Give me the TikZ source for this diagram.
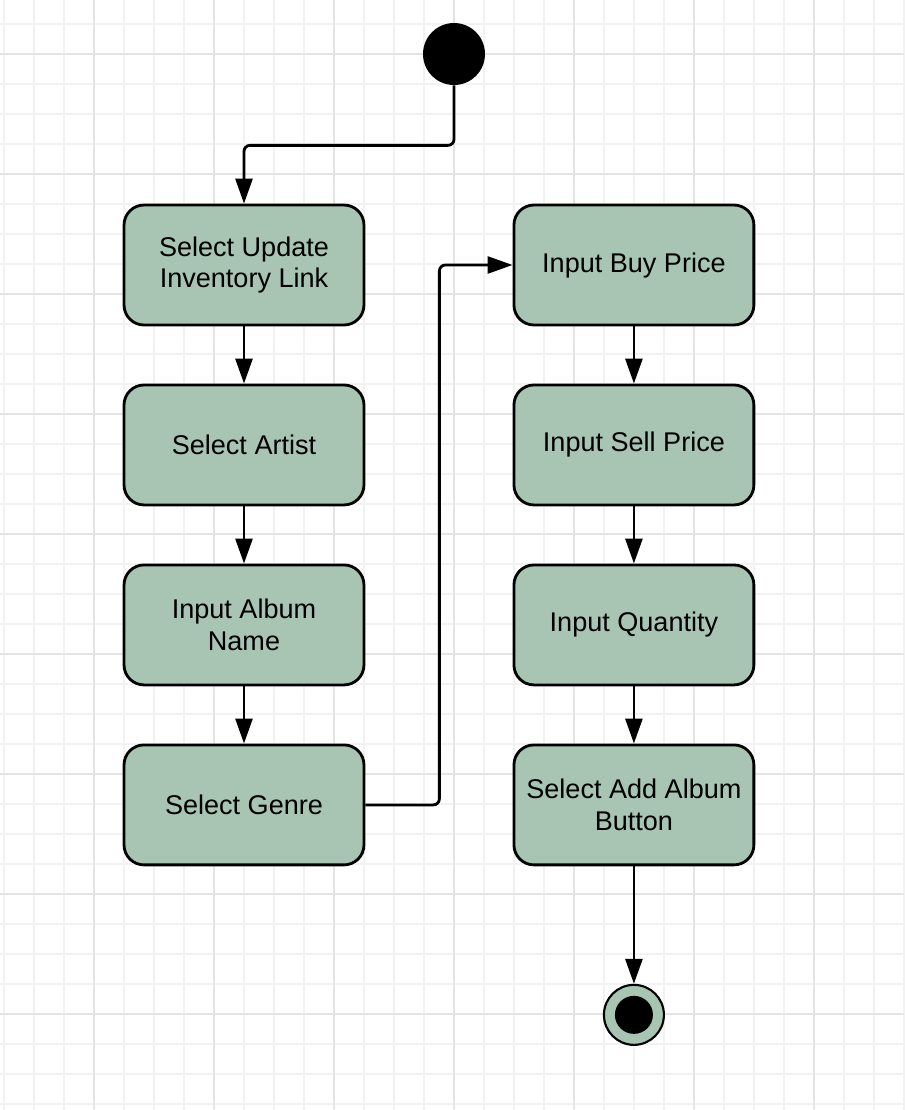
\documentclass[tikz,border=0pt]{standalone}
\usepackage{fontspec}
\setmainfont{Liberation Sans}
\usepackage{tikz}
\usetikzlibrary{shapes,arrows.meta,positioning}

\definecolor{boxgreen}{HTML}{A8C5B3}
\definecolor{gridminor}{HTML}{F2F2F2}
\definecolor{gridmajor}{HTML}{E4E4E4}

\begin{document}
\begin{tikzpicture}[x=0.02cm, y=-0.02cm, node distance=3.6cm, auto]
    % Define styles
    \tikzstyle{activity} = [rectangle, draw, line width=1.6pt, rounded corners=0.4cm, fill=boxgreen, align=center, minimum width=4.8cm, minimum height=2.4cm, font=\fontsize{15.4}{18.2}\selectfont]
    \tikzstyle{initial} = [circle, fill=black, minimum size=1.24cm, inner sep=0pt]
    \tikzstyle{final} = [circle, draw, line width=1.2pt, fill=boxgreen, minimum size=1.2cm, inner sep=0pt]
    \tikzstyle{finaldot} = [circle, fill=black, minimum size=0.76cm, inner sep=0pt]
    \tikzstyle{arrow} = [line width=1.6pt, -{Triangle[length=0.5cm, width=0.34cm]}, rounded corners=0.12cm]

    % Background grid
    \useasboundingbox (0,0) rectangle (904,1110);
    \fill[white] (0,0) rectangle (904,1110);
    \foreach \x in {4,34,...,904} \draw[gridminor, line width=0.6pt] (\x,0) -- (\x,1110);
    \foreach \y in {24,54,...,1104} \draw[gridminor, line width=0.6pt] (0,\y) -- (904,\y);
    \foreach \x in {94,214,...,814} \draw[gridmajor, line width=0.6pt] (\x,0) -- (\x,1110);
    \foreach \y in {54,174,...,1014} \draw[gridmajor, line width=0.6pt] (0,\y) -- (904,\y);

    % Left column
    \node [initial] (start) at (454,54) {};
    \node [activity] (update) at (244,265) {Select Update\\Inventory Link};
    \node [activity, below of=update] (artist) {Select Artist};
    \node [activity, below of=artist] (album) {Input Album\\Name};
    \node [activity, below of=album] (genre) {Select Genre};

    % Right column
    \node [activity, right of=update, node distance=7.8cm] (buy) {Input Buy Price};
    \node [activity, below of=buy] (sell) {Input Sell Price};
    \node [activity, below of=sell] (quantity) {Input Quantity};
    \node [activity, below of=quantity] (addbtn) {Select Add Album\\Button};
    \node [final, below of=addbtn, node distance=4.2cm] (end) {};
    \node [finaldot] (enddot) at (end.center) {};

    % Arrows
    \draw [arrow] (start.south) -- ++(0,60) -| (update);
    \draw [arrow] (update) -- (artist);
    \draw [arrow] (artist) -- (album);
    \draw [arrow] (album) -- (genre);
    \draw [arrow] (genre.east) -- ++(74,0) |- (buy);
    \draw [arrow] (buy) -- (sell);
    \draw [arrow] (sell) -- (quantity);
    \draw [arrow] (quantity) -- (addbtn);
    \draw [arrow] (addbtn) -- (end);
\end{tikzpicture}
\end{document}
